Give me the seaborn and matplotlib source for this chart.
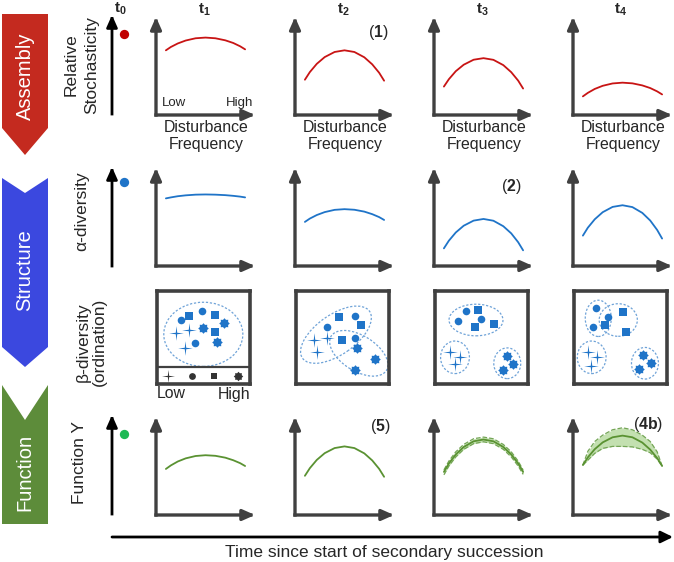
import numpy as np
import pandas as pd
import seaborn as sns
import matplotlib.pyplot as plt
from matplotlib.patches import Polygon, Ellipse

# ---- data --------------------------------------------------------------
TIME_STEPS = ['1', '2', '3', '4']
STAGES = ['Assembly', 'Structure', 'Function']

# disturbance frequency positions shared by every response curve (0-10 scale)
DIST = [1.0, 1.5, 2.2, 3.0, 4.0, 5.0, 6.0, 7.0, 7.8, 8.5, 9.0]

STOCHASTICITY = [
    [6.6, 6.94, 7.3, 7.6, 7.83, 7.9, 7.83, 7.62, 7.35, 7.01, 6.7],
    [3.6, 4.38, 5.22, 5.91, 6.43, 6.6, 6.43, 5.89, 5.17, 4.31, 3.5],
    [2.9, 3.65, 4.47, 5.13, 5.64, 5.8, 5.63, 5.09, 4.37, 3.51, 2.7],
    [1.9, 2.26, 2.66, 2.98, 3.22, 3.3, 3.23, 3.02, 2.75, 2.41, 2.1],
]
ALPHA_DIV = [
    [6.9, 7.0, 7.12, 7.21, 7.28, 7.3, 7.28, 7.23, 7.16, 7.08, 7.0],
    [4.5, 4.84, 5.2, 5.5, 5.73, 5.8, 5.74, 5.55, 5.29, 4.99, 4.7],
    [1.8, 2.58, 3.42, 4.11, 4.63, 4.8, 4.62, 4.06, 3.33, 2.43, 1.6],
    [3.1, 3.91, 4.77, 5.49, 6.03, 6.2, 6.01, 5.42, 4.64, 3.68, 2.8],
]
FUNC_Y = [
    [4.7, 5.06, 5.46, 5.78, 6.02, 6.1, 6.04, 5.85, 5.59, 5.29, 5.0],
    [4.0, 4.78, 5.62, 6.31, 6.83, 7.0, 6.83, 6.29, 5.57, 4.71, 3.9],
    [4.4, 5.26, 6.18, 6.94, 7.52, 7.7, 7.52, 6.94, 6.18, 5.26, 4.4],
    [5.1, 5.88, 6.72, 7.41, 7.93, 8.1, 7.93, 7.39, 6.67, 5.81, 5.0],
]
# spread of Function Y at t3 and t4
BAND_STEPS = [2, 3]
BAND_UPPER = [
    [4.6, 5.5, 6.45, 7.2, 7.78, 7.95, 7.78, 7.2, 6.45, 5.5, 4.6],
    [5.1, 6.5, 7.5, 8.15, 8.7, 8.9, 8.7, 8.15, 7.5, 6.45, 5.0],
]
BAND_LOWER = [
    [4.1, 5.0, 5.93, 6.7, 7.28, 7.47, 7.28, 6.7, 5.93, 5.0, 4.15],
    [5.1, 5.6, 6.3, 6.8, 7.0, 7.0, 6.95, 6.7, 6.35, 5.7, 5.0],
]
# starting state at t0 for stochasticity, alpha-diversity and function
T0_STATE = [8.1, 8.5, 8.1]

# ordination scores per time step (0-10 scale), kind = disturbance level
BETA_X = [
    [2.58, 3.47, 4.81, 6.24, 7.17, 2.04, 3.47, 4.98, 6.27, 4.09, 6.45, 3.01],
    [4.66, 6.34, 6.99, 3.30, 1.94, 3.30, 4.91, 6.34, 6.53, 2.23, 8.49, 6.34],
    [3.33, 4.59, 2.51, 4.95, 4.30, 6.38, 1.61, 2.69, 2.15, 7.77, 8.42, 7.28],
    [2.37, 3.62, 2.01, 3.33, 5.30, 5.59, 1.47, 2.51, 1.83, 7.45, 8.25, 7.02],
]
BETA_Y = [
    [6.88, 7.34, 7.85, 7.42, 6.53, 5.45, 5.81, 6.05, 5.62, 4.38, 4.55, 3.84],
    [7.24, 7.34, 6.34, 6.16, 4.73, 4.91, 4.73, 4.98, 3.90, 3.47, 2.69, 1.51],
    [7.88, 7.96, 6.77, 6.99, 6.10, 6.45, 3.47, 2.87, 2.15, 3.01, 2.12, 1.51],
    [8.14, 7.24, 6.16, 6.34, 7.77, 5.56, 3.47, 2.87, 1.97, 3.12, 2.23, 1.58],
]
BETA_KIND = [
    ['circle', 'square', 'circle', 'square', 'flower', 'star', 'star', 'flower', 'square', 'circle', 'flower', 'star'],
    ['square', 'circle', 'square', 'circle', 'star', 'star', 'square', 'circle', 'flower', 'star', 'flower', 'flower'],
    ['circle', 'square', 'circle', 'circle', 'square', 'square', 'star', 'star', 'star', 'flower', 'flower', 'flower'],
    ['circle', 'circle', 'circle', 'square', 'square', 'square', 'star', 'star', 'star', 'flower', 'flower', 'flower'],
]
# cluster outlines: centre, width, height, angle
CLUSTER_CX = [[4.98], [4.3, 6.75], [4.41, 2.15, 7.77], [2.61, 4.76, 1.90, 7.63]]
CLUSTER_CY = [[5.34], [5.3, 3.3], [6.88, 2.87, 2.23], [7.06, 6.88, 2.87, 2.23]]
CLUSTER_W = [[8.5], [8.8, 7.0], [5.8, 3.1, 2.9], [2.8, 4.1, 3.1, 2.9]]
CLUSTER_H = [[6.9], [4.3, 3.8], [3.4, 3.5, 3.3], [3.9, 3.5, 3.5, 3.4]]
CLUSTER_ANGLE = [[0], [35, -32], [0, 0, 0], [0, 0, 0, 0]]

LEGEND_KINDS = ['star', 'circle', 'square', 'flower']
LEGEND_X = [1.2, 3.8, 6.1, 8.7]

NOTES = ['(1)', '(2)', '(3)', '(4a)', '(5)', '(4b)']

# ---- styling ------------------------------------------------------------
W, H = 674, 562
AXC = '#404040'
RED, BLUE, GREEN = '#C81414', '#1F74C8', '#5A9232'
DOT_COLORS = ['#C00000', '#1F74C8', '#1DB954']
BANNER_COLORS = ['#C42A1F', '#3B48DF', '#5D8C3A']
COL_X = [156, 295, 434, 573]

r = 0.1
STAR = np.array([(0, 1), (r, r), (1, 0), (r, -r), (0, -1), (-r, -r), (-1, 0), (-r, r)])
ang = np.arange(16) * np.pi / 8
rad = np.where(np.arange(16) % 2 == 0, 1.0, 0.74)
FLOWER = np.column_stack([rad * np.sin(ang), rad * np.cos(ang)])
MARKERS = {'star': STAR, 'circle': 'o', 'square': 's', 'flower': FLOWER}
SIZES = {'star': 110, 'circle': 30, 'square': 28, 'flower': 58}

sns.set_theme(style='white')
plt.rcParams['font.family'] = ['Liberation Sans', 'DejaVu Sans']
plt.rcParams['mathtext.fontset'] = 'custom'
plt.rcParams['mathtext.rm'] = 'Liberation Sans'
plt.rcParams['mathtext.bf'] = 'Liberation Sans:bold'


def px_rect(x, top, w, h):
    return [x / W, 1 - (top + h) / H, w / W, h / H]


def draw_arrows(ax, color=AXC, lw=2.4, both=True):
    ends = [(0, 1), (1, 0)] if both else [(0, 1)]
    for end in ends:
        ax.annotate('', xy=end, xytext=(0, 0), xycoords='axes fraction',
                    arrowprops=dict(arrowstyle='-|>,head_length=0.45,head_width=0.2',
                                    lw=lw, color=color, shrinkA=0, shrinkB=0,
                                    mutation_scale=16, capstyle='projecting'))


fig = plt.figure(figsize=(W / 100, H / 100), dpi=100)
bg = fig.add_axes([0, 0, 1, 1])
bg.set_xlim(0, W)
bg.set_ylim(H, 0)
bg.axis('off')

# stage banners
banners = [
    [(2, 14), (48, 14), (48, 128), (25, 155), (2, 128)],
    [(2, 178), (25, 193), (48, 178), (48, 347), (25, 367), (2, 347)],
    [(2, 385), (25, 420), (48, 385), (48, 524), (2, 524)],
]
for poly, col, name, yc in zip(banners, BANNER_COLORS, STAGES, [76, 270, 472]):
    bg.add_patch(Polygon(poly, closed=True, color=col, lw=0))
    bg.text(25, yc, name, rotation=90, color='white', fontsize=14.5, ha='center', va='center')

# row labels
bg.text(81, 65, 'Relative\nStochasticity', rotation=90, fontsize=12.5, ha='center', va='center',
        multialignment='center', linespacing=1.45)
bg.text(82, 211, 'α-diversity', rotation=90, fontsize=12.5, ha='center', va='center')
bg.text(91, 342, 'β-diversity\n(ordination)', rotation=90, fontsize=12.5, ha='center', va='center',
        multialignment='center', linespacing=1.1)
bg.text(80, 462, 'Function Y', rotation=90, fontsize=12.5, ha='center', va='center')

# column headers
bg.text(120, 9, r'$\mathbf{t_0}$', fontsize=11, ha='center', va='center')
for x, t in zip(COL_X, TIME_STEPS):
    bg.text(x + 48, 10, r'$\mathbf{t_' + t + '}$', fontsize=11, ha='center', va='center')
    bg.text(x + 50, 136, 'Disturbance\nFrequency', fontsize=11.4, ha='center', va='center',
            linespacing=1.2)

# t0 axes
for state, col, top in zip(T0_STATE, DOT_COLORS, [15, 167, 415]):
    ax = fig.add_axes(px_rect(112, top, 20, 99))
    ax.set_xlim(0, 10)
    ax.set_ylim(0, 10)
    ax.axis('off')
    draw_arrows(ax, color='black', lw=2.0, both=False)
    sns.scatterplot(x=[6], y=[state], color=col, s=45, linewidth=0, ax=ax, legend=False)

# curve rows
rows = [(STOCHASTICITY, RED, 17), (ALPHA_DIV, BLUE, 168), (FUNC_Y, GREEN, 417)]
for ri, (series, col, top) in enumerate(rows):
    for i, x0 in enumerate(COL_X):
        ax = fig.add_axes(px_rect(x0, top, 99, 98))
        if ri == 2 and i in BAND_STEPS:
            b = BAND_STEPS.index(i)
            ax.fill_between(DIST, BAND_LOWER[b], BAND_UPPER[b], color='#B4D99C', alpha=0.8, lw=0)
            sns.lineplot(x=DIST, y=BAND_UPPER[b], color='#74A556', lw=0.9, ls='--', ax=ax)
            sns.lineplot(x=DIST, y=BAND_LOWER[b], color='#74A556', lw=0.9, ls='--', ax=ax)
        sns.lineplot(x=DIST, y=series[i], color=col, lw=1.3, ax=ax)
        ax.set_xlim(0, 10)
        ax.set_ylim(0, 10)
        ax.axis('off')
        draw_arrows(ax)

bg.text(162, 103, 'Low', fontsize=9.5, ha='left', va='center')
bg.text(253, 103, 'High', fontsize=9.5, ha='right', va='center')

# beta-diversity ordination boxes
for i, x0 in enumerate(COL_X):
    ax = fig.add_axes(px_rect(x0 + 1, 291, 93, 93))
    df = pd.DataFrame({'x': BETA_X[i], 'y': BETA_Y[i], 'kind': BETA_KIND[i]})
    for cx, cy, w, h, a in zip(CLUSTER_CX[i], CLUSTER_CY[i], CLUSTER_W[i], CLUSTER_H[i], CLUSTER_ANGLE[i]):
        ax.add_patch(Ellipse((cx, cy), w, h, angle=a, fill=False, ec='#6FA3D8', lw=0.9,
                             ls=(0, (1.8, 1.4))))
    for kind, sub in df.groupby('kind'):
        sns.scatterplot(data=sub, x='x', y='y', marker=MARKERS[kind], s=SIZES[kind], color=BLUE,
                        linewidth=0, ax=ax, legend=False, zorder=3)
    if i == 0:
        ax.axhline(1.83, color=AXC, lw=1.6)
        for kind, lx in zip(LEGEND_KINDS, LEGEND_X):
            sns.scatterplot(x=[lx], y=[0.9], marker=MARKERS[kind], s=SIZES[kind] * 0.8,
                            color='#333333', linewidth=0, ax=ax, legend=False)
    ax.set_xlim(0, 10)
    ax.set_ylim(0, 10)
    ax.set_xticks([])
    ax.set_yticks([])
    ax.set_xlabel('')
    ax.set_ylabel('')
    for sp in ax.spines.values():
        sp.set_color(AXC)
        sp.set_linewidth(2.6)

bg.text(157, 394, 'Low', fontsize=11.4, ha='left', va='center')
bg.text(250, 394, 'High', fontsize=11.4, ha='right', va='center')

# hypothesis markers
note_pos = [(378, 33), (511, 187), (513, 303), (645, 303), (380, 427), (648, 425)]
for txt, (x, y) in zip(NOTES, note_pos):
    bg.text(x, y, '(' + r'$\mathbf{' + txt[1:-1] + '}$' + ')', fontsize=11.4, ha='center', va='center')

# time axis
bg.annotate('', xy=(673, 537), xytext=(112, 537),
            arrowprops=dict(arrowstyle='-|>,head_length=0.45,head_width=0.22', lw=2.0,
                            color='black', shrinkA=0, shrinkB=0, mutation_scale=16))
bg.text(384, 552, 'Time since start of secondary succession', fontsize=12.5, ha='center', va='center')

fig.savefig('out.png', dpi=100)
